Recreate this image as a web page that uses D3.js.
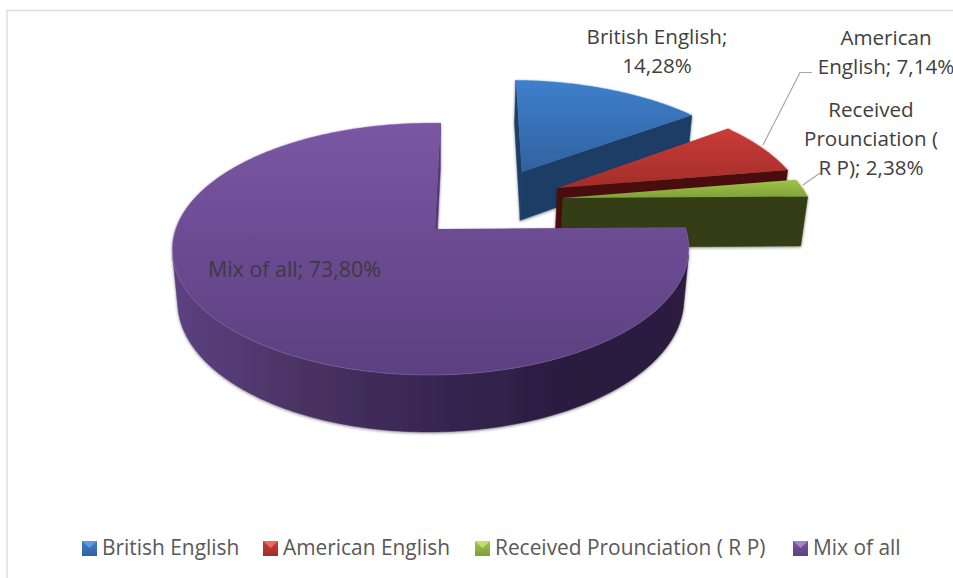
<!DOCTYPE html>
<html>
<head>
<meta charset="utf-8">
<script src="https://cdn.jsdelivr.net/npm/d3@7"></script>
<style>
	html, body { margin: 0; padding: 0; background: #fff; overflow: hidden; }
	text { font-family: "Open Sans", "Noto Sans", sans-serif; }
</style>
</head>
<body>
<div id="chart"></div>
<script>
var categories = ["British English", "American English", "Received Prounciation ( R P)", "Mix of all"];
var values = [14.28, 7.14, 2.38, 73.80];
var topLight = ["#3f7fcc", "#c93c38", "#9ec548", "#7a56a3"];
var topDark = ["#2f629e", "#a32d2a", "#80a03a", "#5c4080"];
var wallColors = ["#1e3c66", "#4a100e", "#343e15", "url(#wall-mix)"];
var cutColors = ["#1e3c66", "#4a100e", "#343e15", "#54397a"];
var legendLight = ["#5c9ae0", "#e86a66", "#c4e070", "#a284c8"];
// data label lines, wrapped the way the chart wraps them
var labelLines = [
	["British English;", "14,28%"],
	["American", "English; 7,14%"],
	["Received", "Prounciation (", "R P); 2,38%"],
	["Mix of all; 73,80%"]
];
var labelX = [657, 886, 871, 294.5];
var labelY = [44, 45, 117, 277];
var labelSize = [20.6, 20.6, 20.6, 21.4];
// how far each slice is pulled out of the pie, in pie radii
var explodeX = [0.366, 0.505, 0.52, 0];
var explodeY = [-0.501, -0.353, -0.263, 0];
// the big slice leans a little to the left in the picture
var lean = [0, 0, 0, 0.017];
var widen = [1, 1, 1, 0.996];
var legendX = [82, 263, 475, 793];

var width = 953, height = 578;
// the projection of the pie plane: y is depth into the picture, z is thickness
var cx = 435, cy = 229, radiusX = 256, radiusY = 122.8, thick = 52, persp = 0.1587, perspZ = 0.02;

function project(x, y, z, l) {
	var w = 1 - persp * y + perspZ * z + (l || 0) * x;
	return [cx + radiusX * x / w, cy + (radiusY * y + thick * z) / w];
}

var svg = d3.select("#chart").append("svg")
	.attr("width", width)
	.attr("height", height);
var defs = svg.append("defs");

var shadow = defs.append("filter").attr("id", "soft")
	.attr("x", "-10%").attr("y", "-10%").attr("width", "120%").attr("height", "120%");
shadow.append("feDropShadow")
	.attr("dx", 0).attr("dy", 1)
	.attr("stdDeviation", 1.6)
	.attr("flood-color", "#000")
	.attr("flood-opacity", 0.45);

categories.forEach(function(c, i) {
	var g = defs.append("linearGradient").attr("id", "top-" + i)
		.attr("x1", 0).attr("y1", 0).attr("x2", 0).attr("y2", 1);
	g.append("stop").attr("offset", "0%").attr("stop-color", topLight[i]);
	g.append("stop").attr("offset", "100%").attr("stop-color", topDark[i]);
});

var wallMix = defs.append("linearGradient").attr("id", "wall-mix")
	.attr("gradientUnits", "userSpaceOnUse")
	.attr("x1", 172).attr("y1", 0).attr("x2", 690).attr("y2", 0);
[[0, "#5c4182"], [0.25, "#4a3363"], [0.55, "#35234f"], [0.78, "#2a1c3e"], [1, "#2d1f3f"]].forEach(function(s) {
	wallMix.append("stop").attr("offset", s[0]).attr("stop-color", s[1]);
});

// chart frame, only the top and left edges are in the picture
svg.append("path")
	.attr("d", d3.line()([[7, height], [7, 10.5], [width, 10.5]]))
	.attr("fill", "none")
	.attr("stroke", "#dedede")
	.attr("stroke-width", 1.5);

var slices = d3.pie().sort(null)
	.startAngle(0.025)
	.endAngle(2 * Math.PI + 0.025)(values);

var line = d3.line();

function drawSlice(parent, d, i) {
	var ox = explodeX[i], oy = explodeY[i];
	var pt = function(a, z) {
		return project(ox + widen[i] * Math.sin(a), oy - Math.cos(a), z, lean[i]);
	};
	var apex = function(z) { return project(ox, oy, z, lean[i]); };
	var g = parent.append("g").attr("class", "slice").attr("filter", "url(#soft)");

	var steps = Math.ceil((d.endAngle - d.startAngle) / 0.01);
	var angles = d3.range(steps + 1).map(function(k) {
		return d.startAngle + (d.endAngle - d.startAngle) * k / steps;
	});

	// keep only the walls that face the viewer
	var addWall = function(points, color) {
		if (d3.polygonArea(points) > 0) {
			g.append("path").attr("class", "wall")
				.attr("d", line(points) + "Z")
				.attr("fill", color)
				.attr("stroke", color)
				.attr("stroke-width", 0.5);
		}
	};
	addWall([apex(0), pt(d.startAngle, 0), pt(d.startAngle, 1), apex(1)], cutColors[i]);
	addWall([pt(d.endAngle, 0), apex(0), apex(1), pt(d.endAngle, 1)], cutColors[i]);

	var front = angles.slice(0, -1).filter(function(a, k) {
		return d3.polygonArea([pt(a, 0), pt(angles[k + 1], 0), pt(angles[k + 1], 1), pt(a, 1)]) > 0;
	});
	if (front.length) {
		var upper = front.map(function(a) { return pt(a, 0); });
		var lower = front.map(function(a) { return pt(a, 1); }).reverse();
		addWall(upper.concat(lower), wallColors[i]);
	}

	var rim = angles.map(function(a) { return pt(a, 0); });
	g.append("path").attr("class", "top")
		.attr("d", line([apex(0)].concat(rim)) + "Z")
		.attr("fill", "url(#top-" + i + ")");
	g.append("path").attr("class", "rim")
		.attr("d", line(rim))
		.attr("fill", "none")
		.attr("stroke", legendLight[i])
		.attr("stroke-opacity", 0.35)
		.attr("stroke-width", 1);
}

var pieGroup = svg.append("g");
slices.forEach(function(d, i) { drawSlice(pieGroup, d, i); });

// leader lines
var leader = [
	[[763, 145], [800, 72.5], [812, 72.5]],
	[[803, 185], [820, 173]]
];
svg.selectAll(".leader").data(leader).enter().append("path")
	.attr("class", "leader")
	.attr("d", function(d) { return line(d); })
	.attr("fill", "none")
	.attr("stroke", "#a6a6a6")
	.attr("stroke-width", 1.2);

// data labels
labelLines.forEach(function(lines, i) {
	var t = svg.append("text")
		.attr("class", "label")
		.attr("text-anchor", "middle")
		.attr("font-size", labelSize[i])
		.attr("fill", i == 3 ? "#3d3a42" : "#404040");
	lines.forEach(function(s, k) {
		t.append("tspan")
			.attr("x", labelX[i])
			.attr("y", labelY[i] + k * 29)
			.text(s);
	});
});

// legend
var legend = svg.selectAll(".legend").data(categories).enter().append("g")
	.attr("class", "legend")
	.attr("transform", function(d, i) { return "translate(" + legendX[i] + ",541)"; });
legend.append("rect")
	.attr("width", 15).attr("height", 15)
	.attr("fill", function(d, i) { return "url(#top-" + i + ")"; });
legend.append("path")
	.attr("d", line([[0, 0], [15, 0], [7.5, 7]]) + "Z")
	.attr("fill", function(d, i) { return legendLight[i]; });
legend.append("text")
	.attr("x", 20).attr("y", 14)
	.attr("font-size", 20.9)
	.attr("fill", "#595959")
	.text(function(d) { return d; });
</script>
</body>
</html>
